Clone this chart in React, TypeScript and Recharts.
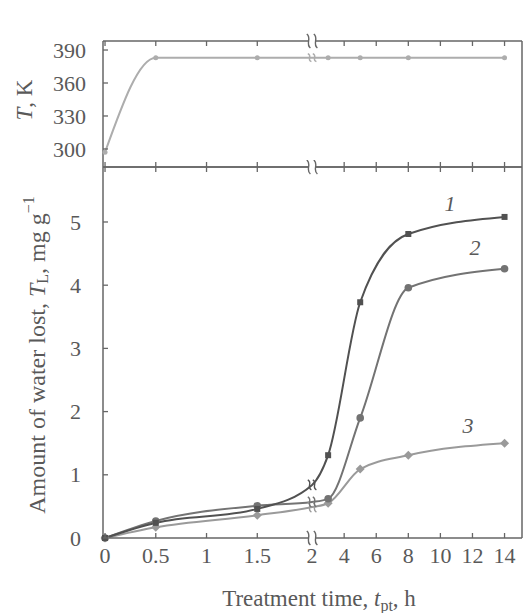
import React from 'react';
import { LineChart, Line, XAxis, YAxis, ReferenceDot } from 'recharts';

const FONT = '"Liberation Serif", "Times New Roman", serif';
const INK = '#595959';
const FRAME = '#666666';
const C1 = '#515151';
const C2 = '#737373';
const C3 = '#9a9a9a';
const CT = '#adadad';

// sampling times, h
const hours = [0, 0.5, 1.5, 2, 3, 5, 8, 14];
// chamber temperature, K
const tempK = [297, 383, 383, 383, 383, 383, 383, 383];
// water lost, mg/g, for runs 1-3
const lost1 = [0, 0.24, 0.46, 0.84, 1.31, 3.73, 4.81, 5.08];
const lost2 = [0, 0.27, 0.51, 0.57, 0.62, 1.9, 3.96, 4.26];
const lost3 = [0, 0.17, 0.36, 0.49, 0.55, 1.09, 1.31, 1.5];

const hourTicks = [0, 0.5, 1, 1.5, 2, 4, 6, 8, 10, 12, 14];
const tempTicks = [300, 330, 360, 390];
const lostTicks = [0, 1, 2, 3, 4, 5];
const curveNames = ['1', '2', '3'];

// time axis is broken at 2 h: full scale before, compressed after
const BREAK_H = 2;
const axisPos = (t: number) => (t < BREAK_H ? t : 2.04 + (t - BREAK_H) * 0.158);

const X_DOMAIN: [number, number] = [-0.02, 4.108];
const T_DOMAIN: [number, number] = [283.6, 398.2];
const L_DOMAIN: [number, number] = [0, 5.87];

const rows = hours.map((t, i) => ({
  t,
  u: axisPos(t),
  temp: tempK[i],
  s1: lost1[i],
  s2: lost2[i],
  s3: lost3[i],
}));
const xTickPos = hourTicks.map(axisPos);

const textStyle = { fontFamily: FONT };

function Squiggle({ cx, cy, h, color, gap = 3.5, cut = false }: any) {
  const s = (x0: number) =>
    `M${x0 - 1.8},${cy - h / 2} C${x0 + 3.5},${cy - h / 5} ${x0 - 3.5},${cy + h / 5} ${x0 + 1.8},${cy + h / 2}`;
  return (
    <g>
      {cut && <rect x={cx - gap} y={cy - 2} width={gap * 2} height={4} fill="#fff" />}
      <path d={s(cx - gap)} fill="none" stroke={color} strokeWidth={1.4} />
      <path d={s(cx + gap)} fill="none" stroke={color} strokeWidth={1.4} />
    </g>
  );
}

const xTick = (dir: number, withLabel: boolean) => (p: any) => {
  const h = hourTicks[p.index];
  return (
    <g key={`xt-${p.index}`}>
      {h !== BREAK_H && (
        <line x1={p.x} x2={p.x} y1={p.y} y2={p.y + dir * 5} stroke={FRAME} strokeWidth={1.3} />
      )}
      {withLabel && (
        <text x={p.x} y={p.y + 25} textAnchor="middle" fill={INK} fontSize={22} style={textStyle}>
          {h}
        </text>
      )}
    </g>
  );
};

const yTick = (dir: number, labelGap: number | null) => (p: any) => (
  <g key={`yt-${p.index}`}>
    <line x1={p.x} x2={p.x + dir * 5} y1={p.y} y2={p.y} stroke={FRAME} strokeWidth={1.3} />
    {labelGap != null && (
      <text x={p.x - labelGap} y={p.y} dy="0.35em" textAnchor="end" fill={INK} fontSize={22} style={textStyle}>
        {p.payload.value}
      </text>
    )}
  </g>
);

type Marker = 'square' | 'circle' | 'diamond' | 'dot';
const markerDot = (kind: Marker, color: string) => (p: any) => {
  const { cx, cy, index, payload } = p;
  const key = `m-${kind}-${index}`;
  if (payload.t === BREAK_H) return <Squiggle key={key} cx={cx} cy={cy} h={kind === 'dot' ? 8 : 10} color={color} gap={2.5} />;
  if (kind === 'square') return <rect key={key} x={cx - 3} y={cy - 3} width={6} height={6} fill={color} />;
  if (kind === 'circle') return <circle key={key} cx={cx} cy={cy} r={3.8} fill={color} />;
  if (kind === 'diamond')
    return <polygon key={key} points={`${cx},${cy - 4.5} ${cx + 4.5},${cy} ${cx},${cy + 4.5} ${cx - 4.5},${cy}`} fill={color} />;
  return <circle key={key} cx={cx} cy={cy} r={2.5} fill={color} />;
};

const axisLine = { stroke: FRAME, strokeWidth: 1.5 };

// shared frame axes: bottom/top time axes, left/right value axes, all with inward ticks
function frameAxes(yDomain: [number, number], yTicks: number[], labelGap: number, bottomLabels: boolean) {
  return [
    <XAxis key="xb" xAxisId="b" dataKey="u" type="number" domain={X_DOMAIN} ticks={xTickPos} interval={0}
      height={1} tickSize={0} tickMargin={0} axisLine={axisLine} tickLine={false} tick={xTick(-1, bottomLabels)} />,
    <XAxis key="xt" xAxisId="t" orientation="top" dataKey="u" type="number" domain={X_DOMAIN} ticks={xTickPos} interval={0}
      height={1} tickSize={0} tickMargin={0} axisLine={axisLine} tickLine={false} tick={xTick(1, false)} />,
    <YAxis key="yl" yAxisId="l" type="number" domain={yDomain} ticks={yTicks} interval={0} width={60}
      tickSize={0} tickMargin={0} axisLine={axisLine} tickLine={false} tick={yTick(1, labelGap)} />,
    <YAxis key="yr" yAxisId="r" orientation="right" type="number" domain={yDomain} ticks={yTicks} interval={0} width={1}
      tickSize={0} tickMargin={0} axisLine={axisLine} tickLine={false} tick={yTick(-1, null)} />,
  ];
}

const breakShape = (p: any) => <Squiggle cx={p.cx} cy={p.cy} h={14} color={FRAME} cut />;

export default function App() {
  return (
    <div style={{ position: 'absolute', left: 0, top: 0, width: 526, height: 613, background: '#fff' }}>
      {/* temperature panel */}
      <div style={{ position: 'absolute', left: 0, top: 0 }}>
        <LineChart width={526} height={170} data={rows} margin={{ top: 40, right: 3, bottom: 2, left: 43 }}>
          {frameAxes(T_DOMAIN, tempTicks, 17, false)}
          <Line xAxisId="b" yAxisId="l" dataKey="temp" type="monotone" stroke={CT} strokeWidth={2}
            dot={markerDot('dot', CT)} activeDot={false} isAnimationActive={false} />
          <ReferenceDot xAxisId="t" yAxisId="l" x={axisPos(BREAK_H)} y={T_DOMAIN[1]} ifOverflow="visible" shape={breakShape} />
        </LineChart>
      </div>

      {/* water loss panel */}
      <div style={{ position: 'absolute', left: 0, top: 160 }}>
        <LineChart width={526} height={453} data={rows} margin={{ top: 6, right: 3, bottom: 74, left: 43 }}>
          {frameAxes(L_DOMAIN, lostTicks, 22, true)}
          <Line xAxisId="b" yAxisId="l" dataKey="s3" type="monotone" stroke={C3} strokeWidth={2}
            dot={markerDot('diamond', C3)} activeDot={false} isAnimationActive={false} />
          <Line xAxisId="b" yAxisId="l" dataKey="s2" type="monotone" stroke={C2} strokeWidth={2}
            dot={markerDot('circle', C2)} activeDot={false} isAnimationActive={false} />
          <Line xAxisId="b" yAxisId="l" dataKey="s1" type="monotone" stroke={C1} strokeWidth={2}
            dot={markerDot('square', C1)} activeDot={false} isAnimationActive={false} />
          <ReferenceDot xAxisId="b" yAxisId="l" x={axisPos(BREAK_H)} y={L_DOMAIN[0]} ifOverflow="visible" shape={breakShape} />
          <ReferenceDot xAxisId="t" yAxisId="l" x={axisPos(BREAK_H)} y={L_DOMAIN[1]} ifOverflow="visible" shape={breakShape} />
        </LineChart>
      </div>

      {/* axis titles and curve numbers */}
      <svg width={526} height={613} style={{ position: 'absolute', left: 0, top: 0, pointerEvents: 'none', ...textStyle }}
        fill={INK} fontSize={22}>
        <text transform="translate(24,100) rotate(-90)" textAnchor="middle" dominantBaseline="central" fontSize={23}>
          <tspan fontStyle="italic">T</tspan>, K
        </text>
        <text transform="translate(37,355) rotate(-90)" textAnchor="middle" dominantBaseline="central" fontSize={24}>
          Amount of water lost, <tspan fontStyle="italic">T</tspan>
          <tspan fontSize={16} dy={5}>L</tspan>
          <tspan dy={-5}>, mg g</tspan>
          <tspan fontSize={16} dy={-9}>−1</tspan>
        </text>
        <text x={319} y={606} textAnchor="middle" fontSize={23}>
          Treatment time, <tspan fontStyle="italic">t</tspan>
          <tspan fontSize={16} dy={5}>pt</tspan>
          <tspan dy={-5}>, h</tspan>
        </text>
        <text x={450} y={203} textAnchor="middle" dominantBaseline="central" fontStyle="italic">{curveNames[0]}</text>
        <text x={475} y={247} textAnchor="middle" dominantBaseline="central" fontStyle="italic">{curveNames[1]}</text>
        <text x={468} y={425} textAnchor="middle" dominantBaseline="central" fontStyle="italic">{curveNames[2]}</text>
      </svg>
    </div>
  );
}
